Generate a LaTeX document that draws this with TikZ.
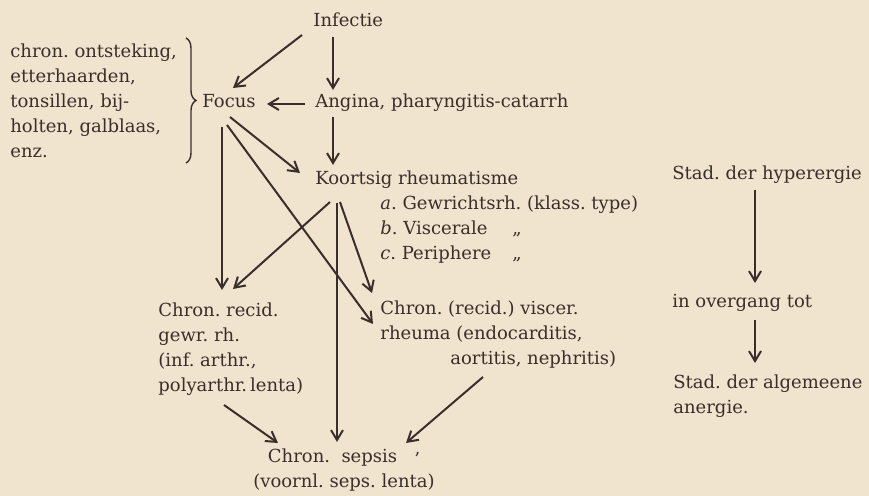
\documentclass[tikz,border=0pt]{standalone}
\usepackage{fontspec}
\setmainfont{DejaVu Serif}
\usetikzlibrary{arrows.meta,decorations.pathreplacing}
\definecolor{paper}{HTML}{F0E4CE}
\definecolor{ink}{HTML}{3A2E2C}
\frenchspacing

\tikzset{
  lbl/.style={inner sep=0pt, anchor=base west, text=ink, align=left,
    font=\fontsize{9}{12.5}\selectfont},
  arr/.style={ink, line width=1pt, -{Straight Barb[length=5pt,width=6pt]}},
}

\begin{document}
\begin{tikzpicture}[x=0.5pt,y=-0.5pt]
  \fill[paper] (0,0) rectangle (869,496);
  \useasboundingbox (0,0) rectangle (869,496);

  % top part (multi-line nodes sit on their last line)
  \node[lbl] (infectie) at (313,27) {Infectie};
  \node[lbl] (haarden) at (10,158) {chron. ontsteking,\\etterhaarden,\\tonsillen, bij-\\holten, galblaas,\\enz.};
  \draw[ink, line width=0.7pt, decorate, decoration={brace, amplitude=5pt}] (186,38) -- (186,163);
  \node[lbl] (focus) at (202,108) {Focus};
  \node[lbl] (angina) at (315,108) {Angina, pharyngitis-catarrh};
  \node[lbl] (koorts) at (315,185) {Koortsig rheumatisme};
  \node[lbl] (typen) at (380,260) {\textit{a}. Gewrichtsrh. (klass. type)\\
    \makebox[66pt][l]{\textit{b}. Viscerale}„\\
    \makebox[66pt][l]{\textit{c}. Periphere}„};

  % chronic forms
  \node[lbl] (recid) at (158,392) {Chron. recid.\\gewr. rh.\\(inf. arthr.,\\polyarthr.\,lenta)};
  \node[lbl] (viscer) at (380,365) {Chron. (recid.) viscer.\\rheuma (endocarditis,\\\hspace*{35pt}aortitis, nephritis)};
  \node[lbl, anchor=base, align=center] (sepsis) at (344,488) {Chron.\ \ sepsis\ \ \ \raisebox{-1.5pt}{'}\\(voornl. seps. lenta)};

  % stages
  \node[lbl] (hyper) at (672,180) {Stad. der hyperergie};
  \node[lbl] (overgang) at (672,308) {in overgang tot};
  \node[lbl] (anergie) at (673,414) {Stad. der algemeene\\anergie.};

  \draw[arr] ([shift={(-11,8)}]infectie.base west) -- ([shift={(31,-20)}]focus.base west);
  \draw[arr] ([shift={(20,10)}]infectie.base west) -- ([shift={(18,-18)}]angina.base west);
  \draw[arr] ([shift={(-10,-4)}]angina.base west) -- ([shift={(65,-4)}]focus.base west);
  \draw[arr] ([shift={(18,9)}]angina.base west) -- ([shift={(18,-20)}]koorts.base west);
  \draw[arr] ([shift={(28,9)}]focus.base west) -- ([shift={(-15,-12)}]koorts.base west);
  \draw[arr] ([shift={(20,19)}]focus.base west) -- ([shift={(64,-102)}]recid.base west);
  \draw[arr] ([shift={(25,17)}]focus.base west) -- ([shift={(-7,-41)}]viscer.base west);
  \draw[arr] ([shift={(15,17)}]koorts.base west) -- ([shift={(75,-103)}]recid.base west);
  \draw[arr] ([shift={(25,17)}]koorts.base west) -- ([shift={(-8,-72)}]viscer.base west);
  \draw[arr] ([shift={(22,18)}]koorts.base west) -- ([shift={(-7,-46)}]sepsis.base);
  \draw[arr] ([shift={(66,13)}]recid.base west) -- ([shift={(-66,-45)}]sepsis.base);
  \draw[arr] ([shift={(103,12)}]viscer.base west) -- ([shift={(62,-45)}]sepsis.base);
  \draw[arr] ([shift={(83,10)}]hyper.base west) -- ([shift={(83,-25)}]overgang.base west);
  \draw[arr] ([shift={(83,12)}]overgang.base west) -- ([shift={(82,-51)}]anergie.base west);
\end{tikzpicture}
\end{document}
